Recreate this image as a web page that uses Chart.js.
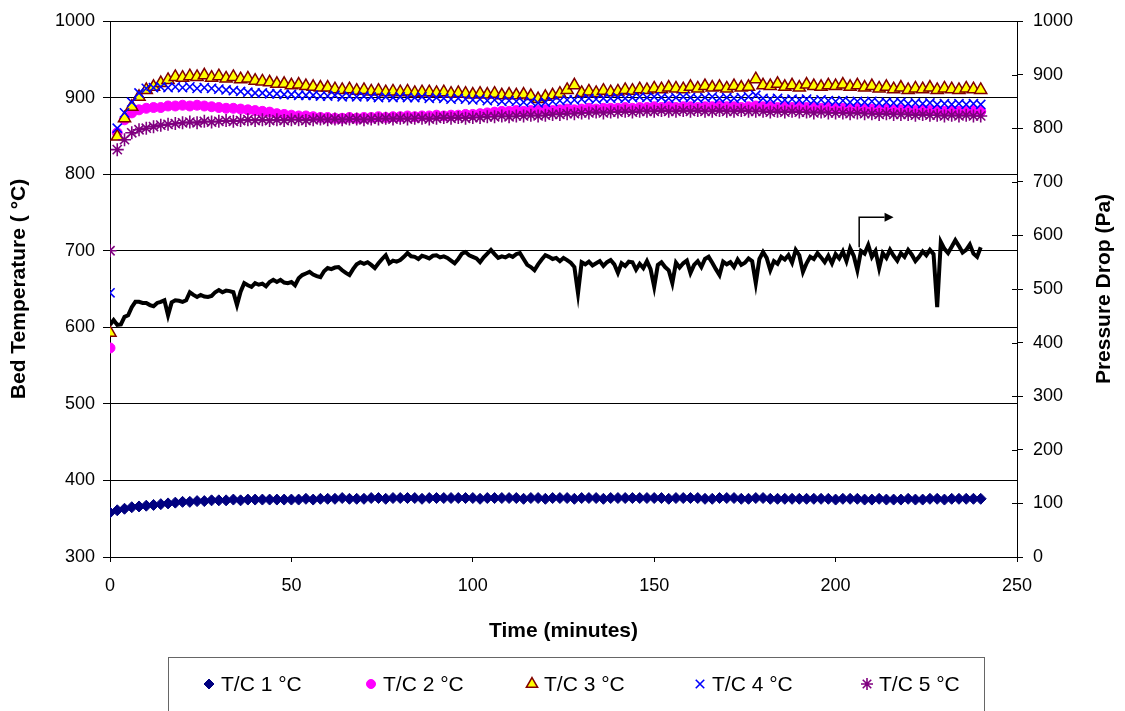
<!DOCTYPE html>
<html lang="en">
<head>
<meta charset="UTF-8">
<title>Bed Temperature and Pressure Drop</title>
<script src="https://cdn.jsdelivr.net/npm/chart.js@4.4.1/dist/chart.umd.min.js"></script>
<style>
    body { margin: 0; padding: 0; background: #ffffff; }
    #wrap { width: 1125px; height: 711px; position: relative; }
</style>
</head>
<body>
<div id="wrap"><canvas id="chart"></canvas></div>
<script>
// time of each thermocouple reading (minutes)
var tempTimes = [
    0, 2, 4, 6, 8, 10, 12, 14, 16, 18,
    20, 22, 24, 26, 28, 30, 32, 34, 36, 38,
    40, 42, 44, 46, 48, 50, 52, 54, 56, 58,
    60, 62, 64, 66, 68, 70, 72, 74, 76, 78,
    80, 82, 84, 86, 88, 90, 92, 94, 96, 98,
    100, 102, 104, 106, 108, 110, 112, 114, 116, 118,
    120, 122, 124, 126, 128, 130, 132, 134, 136, 138,
    140, 142, 144, 146, 148, 150, 152, 154, 156, 158,
    160, 162, 164, 166, 168, 170, 172, 174, 176, 178,
    180, 182, 184, 186, 188, 190, 192, 194, 196, 198,
    200, 202, 204, 206, 208, 210, 212, 214, 216, 218,
    220, 222, 224, 226, 228, 230, 232, 234, 236, 238,
    240
];
var tc1 = [
    358, 361, 363, 365, 366, 367, 368, 369, 370, 371,
    372, 372, 373, 373, 374, 374, 374, 375, 374, 375,
    375, 375, 375, 375, 375, 375, 375, 376, 375, 376,
    376, 376, 377, 376, 376, 376, 377, 377, 376, 377,
    377, 377, 377, 376, 377, 377, 377, 377, 377, 377,
    377, 376, 377, 377, 377, 377, 377, 376, 377, 377,
    376, 377, 377, 377, 376, 377, 377, 377, 376, 377,
    377, 377, 377, 377, 377, 377, 377, 376, 377, 377,
    377, 377, 376, 376, 377, 377, 377, 376, 376, 377,
    377, 376, 376, 376, 376, 376, 376, 376, 376, 376,
    375, 376, 376, 376, 375, 375, 376, 375, 375, 375,
    376, 375, 375, 376, 376, 375, 376, 376, 376, 376,
    376
];
var tc2 = [
    573, 854, 871, 880, 884, 886, 887, 887, 889, 889,
    890, 889, 890, 889, 888, 887, 886, 886, 885, 884,
    883, 882, 881, 879, 878, 877, 876, 876, 875, 874,
    874, 873, 873, 874, 873, 874, 874, 875, 874, 875,
    875, 876, 875, 876, 876, 877, 876, 877, 877, 878,
    878, 879, 880, 881, 882, 882, 883, 882, 883, 883,
    884, 883, 884, 885, 884, 885, 886, 885, 886, 886,
    886, 887, 886, 887, 887, 888, 887, 888, 887, 888,
    888, 887, 888, 888, 889, 888, 888, 887, 888, 889,
    888, 888, 887, 888, 887, 888, 887, 887, 886, 887,
    886, 886, 885, 886, 885, 885, 884, 885, 884, 884,
    884, 883, 884, 883, 883, 882, 883, 882, 882, 883,
    882
];
var tc3 = [
    593, 849, 873, 888, 901, 910, 914, 919, 923, 927,
    926, 928, 927, 929, 926, 928, 925, 927, 924, 925,
    922, 921, 920, 918, 918, 916, 917, 915, 914, 913,
    913, 911, 910, 911, 909, 910, 908, 909, 907, 908,
    907, 908, 906, 907, 907, 906, 907, 905, 906, 905,
    904, 905, 904, 905, 903, 904, 903, 904, 902, 898,
    901, 903, 905, 910, 916, 906, 908, 906, 909, 907,
    908, 910, 909, 911, 910, 912, 911, 913, 912, 911,
    914, 912, 915, 913, 914, 912, 915, 913, 914, 924,
    916, 915, 918, 914, 916, 913, 917, 915, 914, 916,
    915, 917, 914, 916, 913, 915, 912, 914, 911, 913,
    910, 912, 911, 913, 910, 912, 911, 910, 912, 911,
    910
];
var tc4 = [
    645, 860, 880, 894, 906, 912, 913, 914, 913, 914,
    913, 914, 912, 913, 912, 911, 910, 909, 908, 907,
    906, 906, 905, 905, 904, 904, 903, 903, 903, 902,
    902, 903, 901, 902, 901, 902, 901, 900, 901, 900,
    901, 900, 900, 901, 899, 900, 899, 898, 899, 898,
    897, 898, 896, 897, 895, 896, 895, 894, 895, 893,
    894, 895, 896, 897, 897, 898, 899, 898, 899, 899,
    900, 899, 900, 901, 900, 901, 900, 899, 900, 901,
    900, 899, 900, 901, 899, 900, 899, 900, 901, 903,
    899, 898, 899, 897, 898, 897, 898, 896, 897, 896,
    895, 896, 894, 895, 894, 895, 893, 894, 893, 894,
    892, 893, 892, 893, 891, 892, 891, 892, 891, 892,
    891
];
var tc5 = [
    700, 832, 845, 854, 858, 860, 862, 864, 865, 866,
    867, 868, 867, 869, 868, 869, 870, 869, 870, 871,
    870, 871, 870, 871, 870, 871, 871, 870, 871, 872,
    871, 872, 871, 872, 872, 871, 872, 872, 873, 872,
    873, 872, 873, 873, 872, 873, 874, 873, 874, 873,
    874, 874, 875, 875, 876, 875, 876, 876, 877, 876,
    877, 878, 878, 879, 879, 880, 880, 881, 880, 881,
    881, 882, 881, 882, 882, 882, 883, 882, 882, 883,
    882, 883, 882, 882, 883, 882, 882, 883, 882, 882,
    882, 881, 882, 881, 882, 881, 881, 880, 881, 880,
    880, 880, 879, 880, 879, 879, 878, 879, 878, 878,
    878, 877, 878, 877, 877, 876, 877, 876, 877, 876,
    876
];

// pressure drop logged every minute
var pressureTimes = [
    0, 1, 2, 3, 4, 5, 6, 7, 8, 9,
    10, 11, 12, 13, 14, 15, 16, 17, 18, 19,
    20, 21, 22, 23, 24, 25, 26, 27, 28, 29,
    30, 31, 32, 33, 34, 35, 36, 37, 38, 39,
    40, 41, 42, 43, 44, 45, 46, 47, 48, 49,
    50, 51, 52, 53, 54, 55, 56, 57, 58, 59,
    60, 61, 62, 63, 64, 65, 66, 67, 68, 69,
    70, 71, 72, 73, 74, 75, 76, 77, 78, 79,
    80, 81, 82, 83, 84, 85, 86, 87, 88, 89,
    90, 91, 92, 93, 94, 95, 96, 97, 98, 99,
    100, 101, 102, 103, 104, 105, 106, 107, 108, 109,
    110, 111, 112, 113, 114, 115, 116, 117, 118, 119,
    120, 121, 122, 123, 124, 125, 126, 127, 128, 129,
    130, 131, 132, 133, 134, 135, 136, 137, 138, 139,
    140, 141, 142, 143, 144, 145, 146, 147, 148, 149,
    150, 151, 152, 153, 154, 155, 156, 157, 158, 159,
    160, 161, 162, 163, 164, 165, 166, 167, 168, 169,
    170, 171, 172, 173, 174, 175, 176, 177, 178, 179,
    180, 181, 182, 183, 184, 185, 186, 187, 188, 189,
    190, 191, 192, 193, 194, 195, 196, 197, 198, 199,
    200, 201, 202, 203, 204, 205, 206, 207, 208, 209,
    210, 211, 212, 213, 214, 215, 216, 217, 218, 219,
    220, 221, 222, 223, 224, 225, 226, 227, 228, 229,
    230, 231, 232, 233, 234, 235, 236, 237, 238, 239,
    240
];
var pressureDrop = [
    433, 442, 433, 434, 448, 451, 466, 476, 476, 474,
    474, 470, 468, 474, 476, 479, 451, 475, 479, 478,
    476, 479, 494, 489, 485, 489, 486, 485, 487, 494,
    498, 494, 497, 496, 494, 470, 495, 511, 507, 504,
    511, 508, 510, 505, 513, 517, 513, 517, 512, 511,
    513, 507, 520, 526, 529, 532, 527, 524, 522, 533,
    539, 537, 540, 541, 535, 530, 526, 537, 546, 550,
    547, 550, 545, 539, 548, 556, 563, 548, 553, 551,
    554, 560, 567, 561, 560, 556, 562, 560, 557, 562,
    563, 559, 561, 558, 553, 548, 556, 566, 569, 563,
    560, 557, 550, 559, 566, 573, 565, 558, 561, 559,
    563, 560, 565, 567, 556, 545, 541, 535, 546, 555,
    563, 560, 556, 558, 552, 558, 554, 549, 541, 492,
    550, 546, 551, 544, 548, 552, 543, 550, 554, 546,
    530, 548, 543, 551, 550, 536, 547, 539, 552, 537,
    504, 545, 550, 541, 535, 511, 549, 540, 548, 553,
    530, 545, 552, 541, 556, 560, 549, 537, 526, 551,
    546, 550, 541, 555, 545, 549, 557, 552, 511, 556,
    569, 558, 535, 552, 547, 560, 555, 563, 549, 573,
    563, 532, 548, 560, 556, 567, 559, 550, 562, 548,
    565, 557, 570, 552, 576, 562, 535, 571, 566, 582,
    560, 571, 539, 567, 558, 573, 562, 553, 567, 560,
    573, 564, 552, 560, 570, 563, 573, 565, 466, 588,
    575, 567, 579, 591, 580, 568, 573, 583, 566, 560,
    578
];

var seriesLabels = ['T/C 1 \u00b0C', 'T/C 2 \u00b0C', 'T/C 3 \u00b0C', 'T/C 4 \u00b0C', 'T/C 5 \u00b0C'];

// arrow pointing the pressure curve to the right-hand axis
var arrowFrom = 206.5, arrowTo = 213.5, arrowBase = 578, arrowTop = 634;

var FONT = "'Liberation Sans', Arial, sans-serif";

function pairs(xs, ys) {
    return xs.map(function (x, i) { return { x: x, y: ys[i] }; });
}

var legendPlugin = {
    id: 'boxLegend',
    afterDraw: function (chart) {
        var ctx = chart.ctx;
        var xs = [209, 371, 532, 700, 867];
        var y = 684;
        ctx.save();
        ctx.strokeStyle = '#666';
        ctx.lineWidth = 1;
        ctx.strokeRect(168.5, 657.5, 816, 60);
        ctx.font = '21px ' + FONT;
        ctx.textBaseline = 'middle';
        for (var i = 0; i < xs.length; i++) {
            var ds = chart.data.datasets[i];
            ctx.fillStyle = ds.backgroundColor;
            ctx.strokeStyle = ds.borderColor;
            ctx.lineWidth = ds.borderWidth;
            Chart.helpers.drawPoint(ctx, {
                pointStyle: ds.pointStyle, radius: ds.pointRadius - 0.5,
                borderWidth: ds.borderWidth, rotation: 0
            }, xs[i], y);
            ctx.fillStyle = '#000';
            ctx.fillText(ds.label, xs[i] + 12, y + 1);
        }
        ctx.restore();
    }
};

var extrasPlugin = {
    id: 'extras',
    afterDraw: function (chart) {
        var ctx = chart.ctx;
        var x = chart.scales.x, p = chart.scales.y2, area = chart.chartArea;
        var x0 = x.getPixelForValue(arrowFrom), x1 = x.getPixelForValue(arrowTo);
        var yb = p.getPixelForValue(arrowBase), yt = p.getPixelForValue(arrowTop);
        ctx.save();
        ctx.strokeStyle = '#000';
        ctx.fillStyle = '#000';

        // inner half of the right-axis tick marks
        ctx.lineWidth = 1;
        p.ticks.forEach(function (t) {
            var yy = Math.round(p.getPixelForValue(t.value)) + 0.5;
            ctx.beginPath();
            ctx.moveTo(area.right - 5, yy);
            ctx.lineTo(area.right, yy);
            ctx.stroke();
        });

        ctx.lineWidth = 1.5;
        ctx.beginPath();
        ctx.moveTo(x0, yb);
        ctx.lineTo(x0, yt);
        ctx.lineTo(x1, yt);
        ctx.stroke();
        ctx.beginPath();
        ctx.moveTo(x1, yt - 4.5);
        ctx.lineTo(x1 + 9, yt);
        ctx.lineTo(x1, yt + 4.5);
        ctx.closePath();
        ctx.fill();

        // right axis title reads bottom-to-top like the left one
        ctx.translate(1104, (area.top + area.bottom) / 2);
        ctx.rotate(-Math.PI / 2);
        ctx.font = 'bold 21px ' + FONT;
        ctx.textAlign = 'center';
        ctx.textBaseline = 'middle';
        ctx.fillText('Pressure Drop (Pa)', 0, 0);
        ctx.restore();
    }
};

function plainTick(v) { return String(v); }

var ctx = document.getElementById('chart').getContext('2d');
var chart = new Chart(ctx, {
    type: 'scatter',
    data: {
        datasets: [{
            label: seriesLabels[0],
            data: pairs(tempTimes, tc1),
            pointStyle: 'rectRot', pointRadius: 5.5, borderWidth: 1,
            backgroundColor: '#000080', borderColor: '#000080',
            yAxisID: 'y', order: 5
        }, {
            label: seriesLabels[1],
            data: pairs(tempTimes, tc2),
            pointStyle: 'circle', pointRadius: 5, borderWidth: 1,
            backgroundColor: '#ff00ff', borderColor: '#ff00ff',
            yAxisID: 'y', order: 4
        }, {
            label: seriesLabels[2],
            data: pairs(tempTimes, tc3),
            pointStyle: 'triangle', pointRadius: 7, borderWidth: 1.5,
            backgroundColor: '#ffff00', borderColor: '#800000',
            yAxisID: 'y', order: 3
        }, {
            label: seriesLabels[3],
            data: pairs(tempTimes, tc4),
            pointStyle: 'crossRot', pointRadius: 6.5, borderWidth: 1.6,
            backgroundColor: '#0000ff', borderColor: '#0000ff',
            yAxisID: 'y', order: 2
        }, {
            label: seriesLabels[4],
            data: pairs(tempTimes, tc5),
            pointStyle: 'star', pointRadius: 6.5, borderWidth: 1.6,
            backgroundColor: '#800080', borderColor: '#800080',
            yAxisID: 'y', order: 1
        }, {
            label: 'Pressure Drop',
            data: pairs(pressureTimes, pressureDrop),
            showLine: true, pointRadius: 0, borderWidth: 4,
            borderColor: '#000000', backgroundColor: '#000000',
            tension: 0, yAxisID: 'y2', order: 0
        }]
    },
    options: {
        responsive: true,
        maintainAspectRatio: false,
        animation: false,
        layout: { padding: { top: 21, left: 0, right: 0, bottom: 0 } },
        plugins: {
            legend: { display: false },
            tooltip: { enabled: false }
        },
        scales: {
            x: {
                type: 'linear', min: 0, max: 250,
                ticks: { stepSize: 50, color: '#000', padding: 13, font: { family: FONT, size: 18 }, callback: plainTick },
                grid: { drawOnChartArea: false, drawTicks: true, tickLength: 5, color: '#000' },
                border: { display: true, color: '#000', width: 1 },
                title: { display: true, text: 'Time (minutes)', color: '#000', padding: { top: 0, bottom: 67 },
                         font: { family: FONT, size: 21, weight: 'bold' } },
                afterFit: function (s) { s.height = 154; }
            },
            y: {
                position: 'left', min: 300, max: 1000,
                ticks: { stepSize: 100, color: '#000', padding: 8, font: { family: FONT, size: 18 }, callback: plainTick },
                grid: { color: '#000', lineWidth: 1, tickLength: 7 },
                border: { display: true, color: '#000', width: 1 },
                title: { display: true, text: 'Bed Temperature ( \u00b0C)', color: '#000', padding: { top: 7, bottom: 0 },
                         font: { family: FONT, size: 21, weight: 'bold' } },
                afterFit: function (s) { s.width = 110; }
            },
            y2: {
                position: 'right', min: 0, max: 1000,
                ticks: { stepSize: 100, color: '#000', padding: 10, font: { family: FONT, size: 18 }, callback: plainTick },
                grid: { drawOnChartArea: false, color: '#000', tickLength: 6 },
                border: { display: true, color: '#000', width: 1 },
                afterFit: function (s) { s.width = 108; }
            }
        }
    },
    plugins: [legendPlugin, extrasPlugin]
});
</script>
</body>
</html>
